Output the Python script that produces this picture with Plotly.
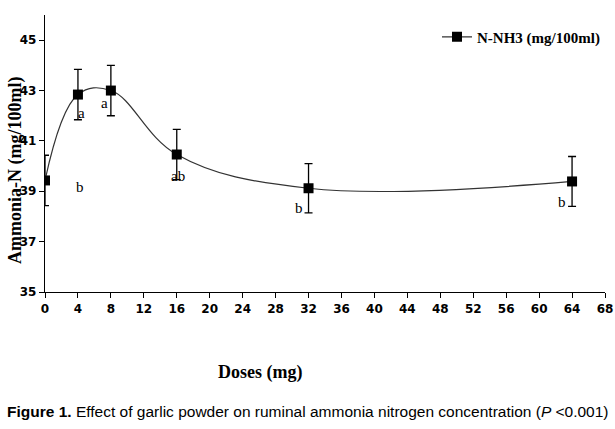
import plotly.graph_objects as go

# Data
doses = [0, 4, 8, 16, 32, 64]
nh3 = [39.43, 42.84, 43.0, 40.46, 39.12, 39.39]
err = [1.0, 1.0, 1.0, 1.0, 0.98, 0.99]
letters = ["b", "a", "a", "ab", "b", "b"]
x_ticks = list(range(0, 69, 4))
y_ticks = [35, 37, 39, 41, 43, 45]

# Letter placement offsets (style): (dx in dose units, dy in value units)
letter_offsets = [(4.2, -0.25), (0.4, -0.75), (-0.8, -0.5), (0.2, -0.85), (-1.1, -0.8), (-1.2, -0.8)]

fig = go.Figure()
fig.add_trace(go.Scatter(
    x=doses, y=nh3,
    mode="lines+markers",
    name="<b>N-NH3 (mg/100ml)</b>",
    line=dict(color="#333333", width=1.2, shape="spline", smoothing=1.1),
    marker=dict(symbol="square", size=10, color="black"),
    error_y=dict(type="data", array=err, visible=True, color="black", thickness=1.3, width=4),
))

for d, v, lab, (dx, dy) in zip(doses, nh3, letters, letter_offsets):
    fig.add_annotation(x=d + dx, y=v + dy, text=lab, showarrow=False,
                       font=dict(family="Liberation Serif", size=15, color="black"),
                       xanchor="center", yanchor="middle")

fig.update_layout(
    width=615, height=429,
    margin=dict(l=45, r=10, t=15, b=137),
    paper_bgcolor="white", plot_bgcolor="white",
    showlegend=True,
    legend=dict(x=1.0, y=0.98, xanchor="right", yanchor="top",
                font=dict(family="Liberation Serif", size=15, color="black"),
                bgcolor="rgba(0,0,0,0)", itemwidth=30),
    font=dict(family="Liberation Sans", color="black"),
)
fig.update_xaxes(range=[0, 68], tickvals=x_ticks, ticktext=[f"<b>{t}</b>" for t in x_ticks],
                 showline=True, linecolor="black", linewidth=1.3, ticks="outside",
                 ticklen=5, tickcolor="black", showgrid=False, zeroline=False, automargin=False,
                 tickfont=dict(family="DejaVu Sans", size=12, color="black"))
fig.update_yaxes(range=[35, 46], tickvals=y_ticks, ticktext=[f"<b>{t}</b>" for t in y_ticks],
                 showline=True, linecolor="black", linewidth=1.3, ticks="outside",
                 ticklen=5, tickcolor="black", showgrid=False, zeroline=False, automargin=False,
                 tickfont=dict(family="DejaVu Sans", size=12, color="black"))

fig.add_annotation(xref="paper", yref="paper", x=-0.054, y=0.44, text="<b>Ammonia-N (mg/100ml)</b>",
                   textangle=-90, showarrow=False, xanchor="center", yanchor="middle",
                   font=dict(family="Liberation Serif", size=18, color="black"))
fig.add_annotation(xref="paper", yref="paper", x=0.384, y=-0.289, text="<b>Doses (mg)</b>",
                   showarrow=False, xanchor="center", yanchor="middle",
                   font=dict(family="Liberation Serif", size=18, color="black"))
fig.add_annotation(xref="paper", yref="paper", x=-0.0714, y=-0.43,
                   text="<b>Figure 1.</b> Effect of garlic powder on ruminal ammonia nitrogen concentration (<i>P</i> &lt;0.001)",
                   showarrow=False, xanchor="left", yanchor="middle",
                   font=dict(family="Liberation Sans", size=15.5, color="black"))

fig.write_html("out.html", config={"displayModeBar": False},
               post_script="document.body.style.margin='0px';")
